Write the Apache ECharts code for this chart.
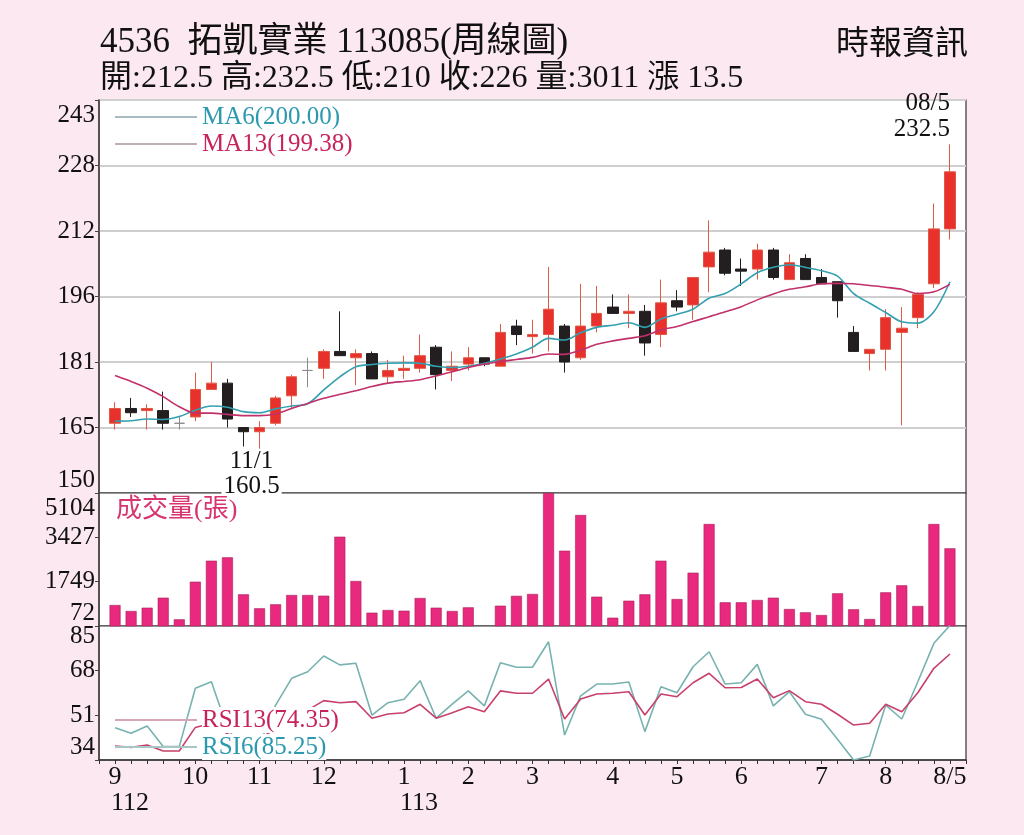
<!DOCTYPE html>
<html><head><meta charset="utf-8">
<script src="https://cdn.jsdelivr.net/npm/echarts@6/dist/echarts.min.js"></script>
<style>html,body{margin:0;padding:0;background:#fce8f0;}#c{width:1024px;height:835px;}</style>
</head><body><div id="c"></div>
<script>
// ---------- data ----------
const categories = [
'112/09-1','112/09-2','112/09-3','112/09-4','112/09-5',
'112/10-1','112/10-2','112/10-3','112/10-4',
'112/11-1','112/11-2','112/11-3','112/11-4',
'112/12-1','112/12-2','112/12-3','112/12-4','112/12-5',
'113/01-1','113/01-2','113/01-3','113/01-4',
'113/02-1','113/02-2','113/02-3','113/02-4',
'113/03-1','113/03-2','113/03-3','113/03-4','113/03-5',
'113/04-1','113/04-2','113/04-3','113/04-4',
'113/05-1','113/05-2','113/05-3','113/05-4',
'113/06-1','113/06-2','113/06-3','113/06-4','113/06-5',
'113/07-1','113/07-2','113/07-3','113/07-4',
'113/08-1','113/08-2','113/08-3','113/08-4',
'113/08/05'];
// [open, close, low, high]
const ohlc = [
[166.5,170,165,171.5],[170,169,168,172.5],[169.5,170,165,171],[169.5,166.5,165,174],[166.5,166.5,165,168],
[168,174.5,167,178.5],[174.5,176,174.5,181],[176,167.5,165.5,177],[165.5,164.5,161,165.5],
[164.5,165.5,160.5,167],[166.5,172.5,166,173],[173,177.5,170,178],[179,179,175,182],
[179.5,183.5,177,184],[183.5,182.5,182.5,193],[182,183,175.5,184],[183,177,177,183.5],[177.5,179,176,181.5],
[179,179.5,177,182.5],[179.5,182.5,178.5,187.5],[184.5,178,174.5,185],[179,180,176.5,183.5],
[180.5,182,179,184.5],[182,180.5,180,182],[180,188,180,190],[189.5,187.5,185,191],
[187,187.5,183,191],[187.5,193.5,183.5,203.5],[189.5,181,178.5,190],[182,189.5,181.5,199.5],[189.5,192.5,188,199],
[194,192.5,192.5,197],[192.5,193,189,197],[193,185.5,182.5,194.5],[187.5,195,184.5,200.5],
[195.5,194,193,198],[194.5,201,191,201],[203.5,207,197.5,214.5],[207.5,202,201.5,208],
[203,202.5,199,205.5],[203,207.5,200.5,209],[207.5,201,200.5,208],[200.5,204.5,200.5,206.5],[205.5,200.5,200.5,206.5],
[201,199.5,199.5,203],[200,195.5,191.5,200],[188,183.5,183.5,189.5],[183,184,179,184],
[184,191.5,179,193.5],[188,189,166,194],[191.5,197,189,197.5],[199.5,212.5,198.5,218.5],
[212.5,226,210,232.5]];
const ma6 = [167.0,167.1,167.5,167.4,168.1,169.6,170.6,170.3,169.25,169.0,169.9,170.6,171.1,174.4,177.5,179.9,180.4,180.7,180.8,180.7,180.0,179.7,180.0,180.7,181.7,182.9,184.5,186.6,186.2,187.9,189.2,189.7,190.3,189.2,191.2,192.3,193.5,196.1,197.2,199.5,202.1,203.4,204.0,203.4,202.6,201.3,197.2,194.9,192.7,190.5,190.2,192.9,200.0];
const ma13 = [177.8,176.4,174.8,172.8,170.4,168.9,168.9,168.6,168.3,168.3,168.7,170.0,171.2,172.4,173.35,174.2,175.2,176.0,176.4,176.8,177.7,178.7,179.7,180.5,181.1,181.6,182.1,182.9,182.8,183.8,185.2,186.0,186.6,187.2,188.6,189.4,190.6,191.7,192.9,194.1,195.7,197.1,198.2,198.8,199.5,199.6,199.5,199.1,198.7,198.2,197.2,197.6,199.38];
const volume = [866,640,765,1143,325,1748,2543,2671,1271,742,893,1245,1245,1219,3451,1775,576,677,651,1131,765,640,778,50,840,1213,1283,5104,2921,4272,1181,386,1029,1271,2543,1093,2089,3931,969,969,1056,1143,715,590,488,1309,704,337,1347,1612,829,3931,3011];
const rsi6 = [46.3,44.2,46.9,39.1,39.1,61.3,63.8,46,38,40,54.9,65.1,67.6,73.6,70.2,70.8,51.1,55.8,57.1,64.2,49.9,55.3,60.3,54.6,71.0,69.3,69.3,79.0,43.5,58.4,62.9,62.9,63.7,44.8,61.9,59.6,69.5,75.2,62.9,63.4,70.4,54.6,60.0,51.4,49.5,41.9,34.0,35.5,54.9,49.6,63.8,78.4,85.25];
const rsi13 = [39.3,38.8,39.7,37.4,37.4,46.4,48,44,41,42,46,50,53,56.6,55.8,56.2,49.9,51.5,52.0,55.2,49.9,52.0,54.3,52.4,60.3,59.4,59.4,64.8,49.6,57.2,59.1,59.4,60.0,51.1,59.1,58.1,63.4,67.0,61.5,61.6,64.8,57.7,60.4,56.2,55.2,51.4,47.3,48.0,55.2,52.4,59.6,68.9,74.35];
const priceTickLabels = ['150','165','181','196','212','228','243'];
const volTicks = [72,1749,3427,5104];
const rsiTickLabels = ['34','51','68','85'];
const monthTicks = {0:'9',5:'10',9:'11',13:'12',18:'1',22:'2',26:'3',31:'4',35:'5',39:'6',44:'7',48:'8',52:'8/5'};
const yearTicks = {0:'112',18:'113'};
const legendValues = {MA6:'200.00', MA13:'199.38', RSI13:'74.35', RSI6:'85.25'};
const highNote = {idx:52, date:'08/5', value:232.5};
const lowNote = {idx:9, date:'11/1', value:160.5};

// ---------- chart ----------
const SERIF = '"Liberation Serif", "Noto Sans CJK TC", serif';
const xCats = ['pad0'].concat(categories, ['pad1']);
const padL = a => ['-'].concat(a, ['-']);
const padC = a => [['-','-','-','-']].concat(a, [['-','-','-','-']]);
const chart = echarts.init(document.getElementById('c'));
const lblBase = {fontSize:25, fontFamily:SERIF, color:'#111'};
const edgeRich = (topPad, botPad) => ({
  top: Object.assign({padding:[topPad,0,0,0]}, lblBase),
  bot: Object.assign({padding:[0,0,botPad,0]}, lblBase)
});
const gridBase = {left:99, width:867, show:true, backgroundColor:'#fff', borderColor:'#333', borderWidth:1.2};
const hiddenX = i => ({type:'category', gridIndex:i, data:xCats, boundaryGap:false, show:false});

chart.setOption({
  animation:false,
  backgroundColor:'#fce8f0',
  textStyle:{fontFamily:SERIF},
  title:{text:'成交量(張)', left:116, top:497, padding:0,
    textStyle:{fontSize:26, fontWeight:'normal', color:'#d8346f', fontFamily:SERIF}},
  graphic:[
    {type:'text', x:100, y:43, style:{text:'4536  拓凱實業 113085(周線圖)', font:'35px "Liberation Serif", "Noto Sans CJK TC"', fill:'#111', verticalAlign:'middle', textVerticalAlign:'middle'}},
    {type:'text', x:100, y:79, style:{text:'開:212.5 高:232.5 低:210 收:226 量:3011 漲 13.5', font:'32px "Liberation Serif", "Noto Sans CJK TC"', fill:'#111', verticalAlign:'middle', textVerticalAlign:'middle'}},
    {type:'text', x:968, y:45, style:{text:'時報資訊', font:'33px "Liberation Serif", "Noto Sans CJK TC"', fill:'#111', align:'right', textAlign:'right', verticalAlign:'middle', textVerticalAlign:'middle'}}
  ],
  legend:[
    {orient:'vertical', left:115, top:104, padding:0, itemGap:1, itemWidth:82, itemHeight:2, icon:'rect', selectedMode:false,
     textStyle:{fontSize:25, fontFamily:SERIF, lineHeight:26},
     formatter:n => n + '(' + legendValues[n] + ')',
     data:[{name:'MA6', textStyle:{color:'#2b99ae'}, itemStyle:{color:'#a7bcc0'}},
           {name:'MA13', textStyle:{color:'#c7245c'}, itemStyle:{color:'#bcb0b5'}}]},
    {orient:'vertical', left:115, top:707, padding:0, itemGap:1, itemWidth:82, itemHeight:2, icon:'rect', selectedMode:false,
     textStyle:{fontSize:25, fontFamily:SERIF, lineHeight:26, backgroundColor:'#fff'},
     formatter:n => n + '(' + legendValues[n] + ')',
     data:[{name:'RSI13', textStyle:{color:'#c7245c', backgroundColor:'#fff'}, itemStyle:{color:'#d7a6b6'}},
           {name:'RSI6', textStyle:{color:'#2b99ae', backgroundColor:'#fff'}, itemStyle:{color:'#a7c6c6'}}]}
  ],
  grid:[
    Object.assign({top:100, height:393}, gridBase),
    Object.assign({top:493, height:133}, gridBase),
    Object.assign({top:626, height:134}, gridBase)
  ],
  xAxis:[
    hiddenX(0), hiddenX(1),
    {type:'category', gridIndex:2, data:xCats, boundaryGap:false,
     axisLine:{lineStyle:{color:'#333', width:1.5}},
     axisTick:{show:true, interval:0, length:4, lineStyle:{color:'#333'}},
     axisLabel:{interval:0, margin:4, fontSize:26, fontFamily:SERIF, color:'#111',
       formatter:(v, i) => monthTicks[i-1] || ''}},
    {type:'category', gridIndex:2, data:xCats, boundaryGap:false, position:'bottom', offset:26,
     axisLine:{show:false}, axisTick:{show:false},
     axisLabel:{interval:0, margin:4, fontSize:26, fontFamily:SERIF, color:'#111', align:'left', padding:[0,0,0,-4],
       formatter:(v, i) => yearTicks[i-1] || ''}}
  ],
  yAxis:[
    {type:'value', gridIndex:0, min:150, max:243, interval:15.5,
     axisLine:{show:true, lineStyle:{color:'#444', width:1.5}},
     axisTick:{show:true, length:4, lineStyle:{color:'#444'}},
     splitLine:{show:true, showMinLine:false, lineStyle:{color:'#cfcfcf', width:2}},
     axisLabel:Object.assign({margin:4, rich:edgeRich(30,26),
       formatter:v => { const i = Math.round((v-150)/15.5); const s = priceTickLabels[i];
         return i === 6 ? '{top|'+s+'}' : (i === 0 ? '{bot|'+s+'}' : s); }}, lblBase)},
    {type:'value', gridIndex:1, min:72, max:5104,
     axisLine:{show:true, lineStyle:{color:'#444', width:1.5}},
     axisTick:{show:true, length:4, customValues:volTicks, lineStyle:{color:'#444'}},
     splitLine:{show:false},
     axisLabel:Object.assign({margin:4, customValues:volTicks, rich:edgeRich(30,26),
       formatter:v => v === 5104 ? '{top|5104}' : (v === 72 ? '{bot|72}' : String(v))}, lblBase)},
    {type:'value', gridIndex:2, min:34, max:85, interval:17,
     axisLine:{show:true, lineStyle:{color:'#444', width:1.5}},
     axisTick:{show:true, length:4, lineStyle:{color:'#444'}},
     splitLine:{show:false},
     axisLabel:Object.assign({margin:4, rich:edgeRich(20,26),
       formatter:v => { const i = Math.round((v-34)/17); const s = rsiTickLabels[i];
         return i === 3 ? '{top|'+s+'}' : (i === 0 ? '{bot|'+s+'}' : s); }}, lblBase)}
  ],
  series:[
    {type:'candlestick', name:'K', xAxisIndex:0, yAxisIndex:0, data:padC(ohlc), barWidth:11,
     itemStyle:{color:'#e8312d', color0:'#231f20', borderColor:'#df5a45', borderColor0:'#231f20', borderColorDoji:'#8a8a8a', borderWidth:1},
     markPoint:{symbol:'circle', symbolSize:1, itemStyle:{color:'rgba(0,0,0,0)'},
       label:{fontSize:25, fontFamily:SERIF, color:'#111', lineHeight:26},
       data:[
         {coord:[xCats[highNote.idx+1], highNote.value],
          label:{position:'top', align:'right', distance:1, formatter:highNote.date + '\n' + highNote.value}},
         {coord:[xCats[lowNote.idx+1], lowNote.value],
          label:{position:'bottom', distance:0, offset:[-8,0],
            formatter:'{a|' + lowNote.date + '}\n{b|' + lowNote.value + '}',
            rich:{a:{fontSize:25, fontFamily:SERIF, color:'#111', lineHeight:25},
                  b:{fontSize:25, fontFamily:SERIF, color:'#111', lineHeight:25, backgroundColor:'#fff', padding:[0,2,0,2]}}}}
       ]}},
    {type:'line', name:'MA6', xAxisIndex:0, yAxisIndex:0, data:padL(ma6), symbol:'none', smooth:0.3,
     itemStyle:{color:'#32a0b0'}, lineStyle:{color:'#32a0b0', width:1.6}},
    {type:'line', name:'MA13', xAxisIndex:0, yAxisIndex:0, data:padL(ma13), symbol:'none', smooth:0.3,
     itemStyle:{color:'#c1306a'}, lineStyle:{color:'#c1306a', width:1.6}},
    {type:'bar', name:'VOL', xAxisIndex:1, yAxisIndex:1, data:padL(volume), barWidth:11,
     itemStyle:{color:'#e8297e', borderColor:'#a8205a', borderWidth:0.6}},
    {type:'line', name:'RSI6', xAxisIndex:2, yAxisIndex:2, data:padL(rsi6), symbol:'none',
     itemStyle:{color:'#78b2b0'}, lineStyle:{color:'#78b2b0', width:1.6}},
    {type:'line', name:'RSI13', xAxisIndex:2, yAxisIndex:2, data:padL(rsi13), symbol:'none',
     itemStyle:{color:'#c8406b'}, lineStyle:{color:'#c8406b', width:1.6}}
  ]
});
</script></body></html>
